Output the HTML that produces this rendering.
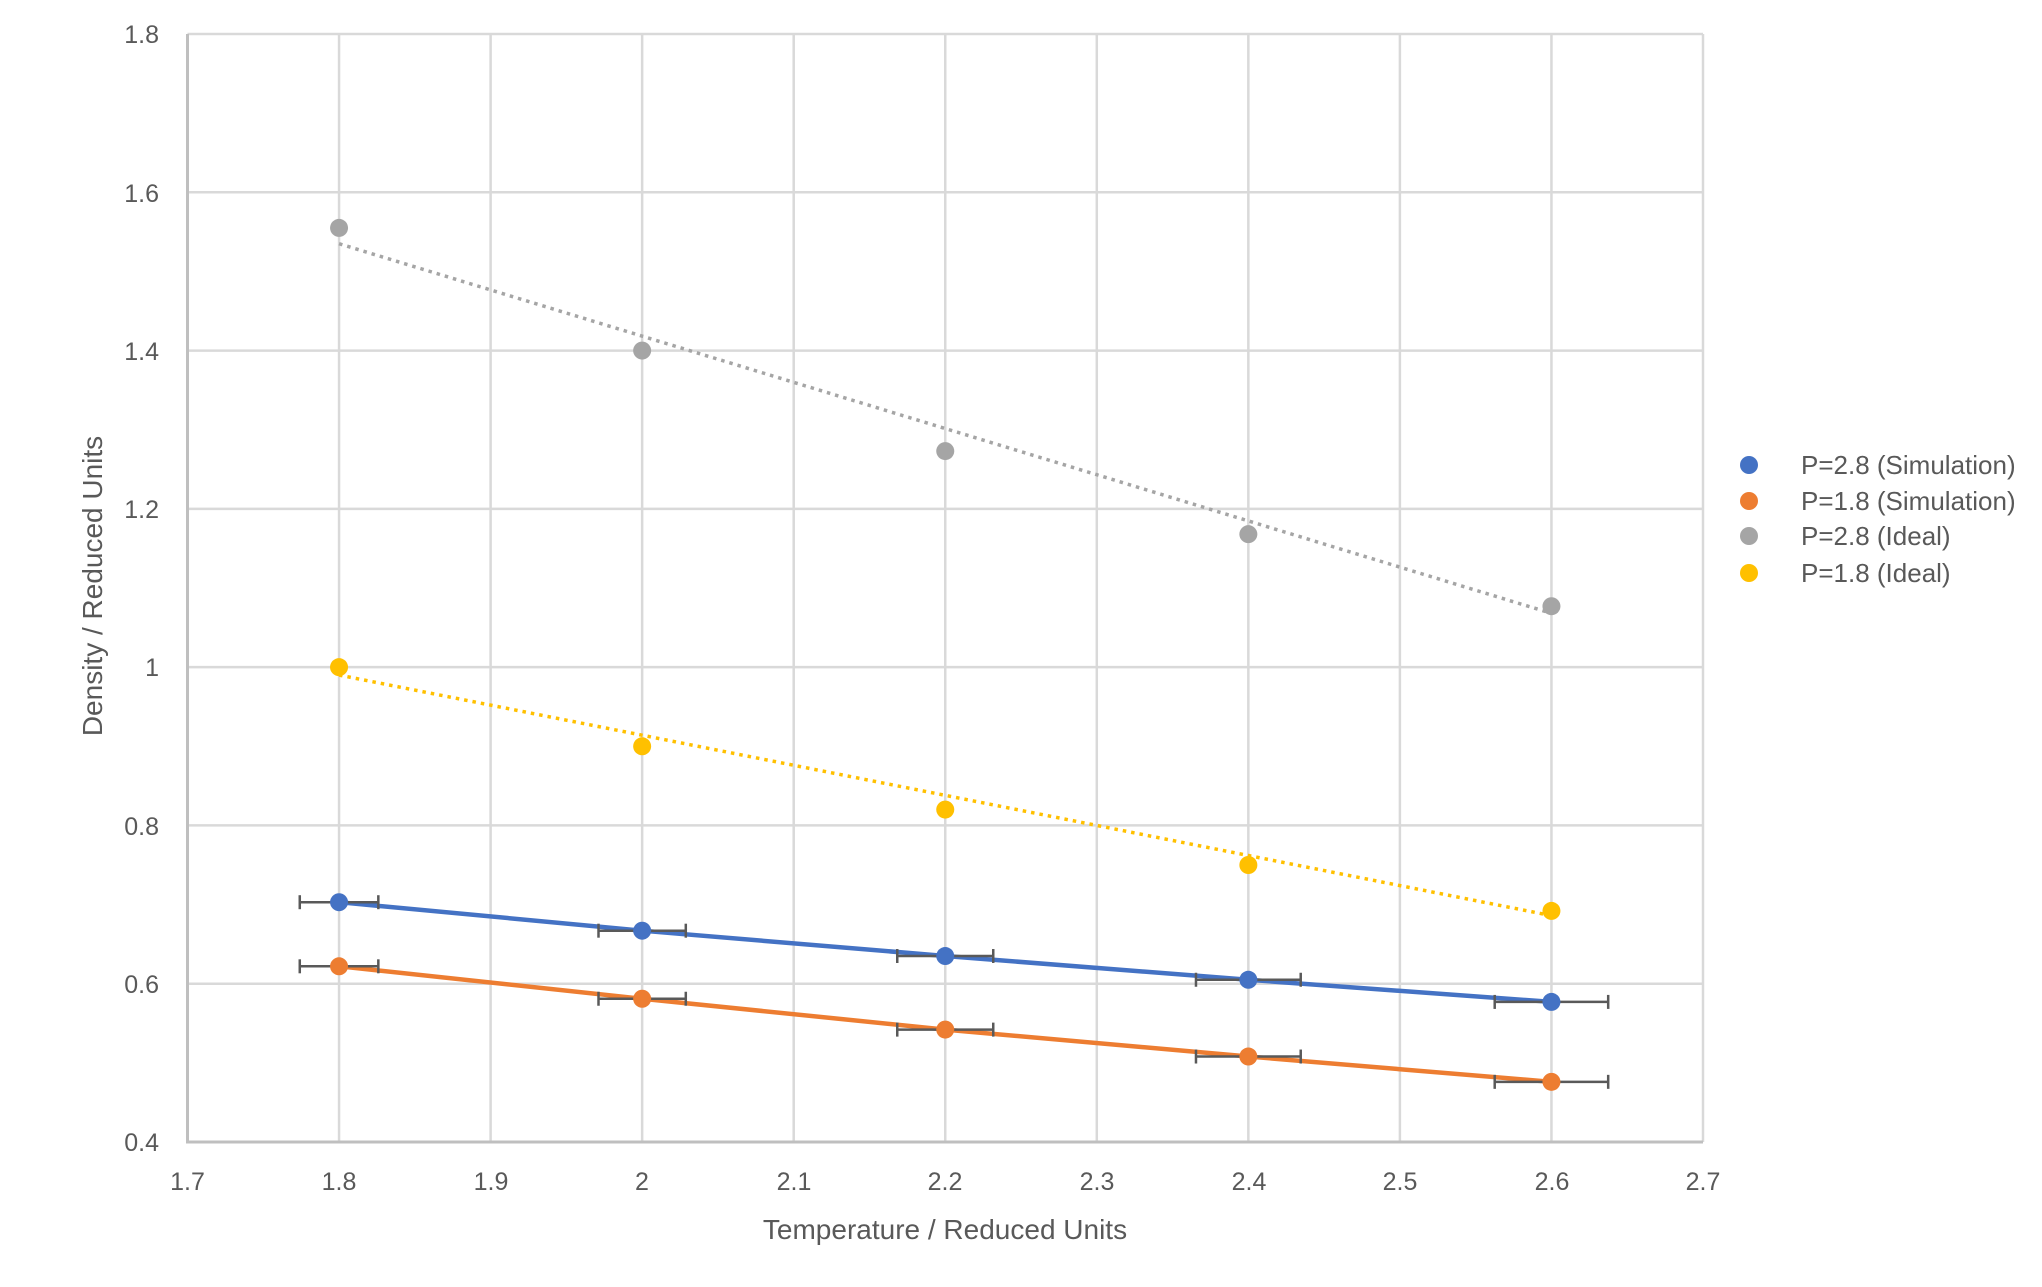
<!DOCTYPE html>
<html><head><meta charset="utf-8"><style>
html,body{margin:0;padding:0;background:#fff;}
svg text{font-family:"Liberation Sans",sans-serif;fill:#595959;}
</style></head><body>
<svg id="s" width="2042" height="1282" xmlns="http://www.w3.org/2000/svg">
<rect width="2042" height="1282" fill="#fff"/>
<g id="grid"></g>
<g font-size="25" text-anchor="end">
<text x="159" y="1151">0.4</text>
<text x="159" y="993">0.6</text>
<text x="159" y="835">0.8</text>
<text x="159" y="676">1</text>
<text x="159" y="518">1.2</text>
<text x="159" y="360">1.4</text>
<text x="159" y="202">1.6</text>
<text x="159" y="43">1.8</text>
</g>
<g font-size="25" text-anchor="middle">
<text x="187.5" y="1190">1.7</text>
<text x="339" y="1190">1.8</text>
<text x="491" y="1190">1.9</text>
<text x="642" y="1190">2</text>
<text x="794" y="1190">2.1</text>
<text x="945" y="1190">2.2</text>
<text x="1097" y="1190">2.3</text>
<text x="1249" y="1190">2.4</text>
<text x="1400" y="1190">2.5</text>
<text x="1552" y="1190">2.6</text>
<text x="1703" y="1190">2.7</text>
</g>
<text x="945" y="1239" font-size="28" text-anchor="middle">Temperature / Reduced Units</text>
<text transform="translate(102,586) rotate(-90)" font-size="28" text-anchor="middle">Density / Reduced Units</text>
<g id="data"></g>
<g font-size="26">
<circle cx="1749" cy="465" r="9" fill="#4472c4"/><text x="1801" y="474">P=2.8 (Simulation)</text>
<circle cx="1749" cy="501" r="9" fill="#ed7d31"/><text x="1801" y="510">P=1.8 (Simulation)</text>
<circle cx="1749" cy="536" r="9" fill="#a5a5a5"/><text x="1801" y="545">P=2.8 (Ideal)</text>
<circle cx="1749" cy="573" r="9" fill="#ffc000"/><text x="1801" y="582">P=1.8 (Ideal)</text>
</g>
</svg>
<script>
var NS="http://www.w3.org/2000/svg";
function X(v){return 187.5+(v-1.7)*1515.5;}
function Y(v){return 1142-(v-0.4)*791.43;}
function el(p,t,a){var e=document.createElementNS(NS,t);for(var k in a)e.setAttribute(k,a[k]);p.appendChild(e);return e;}
var g=document.getElementById("grid");
for(var i=1;i<=10;i++){var x=X(1.7+i*0.1);el(g,"line",{x1:x,y1:34,x2:x,y2:1142,stroke:"#d9d9d9","stroke-width":2.5});}
for(var i=1;i<=7;i++){var y=Y(0.4+i*0.2);el(g,"line",{x1:187.5,y1:y,x2:1703,y2:y,stroke:"#d9d9d9","stroke-width":2.5});}
el(g,"line",{x1:187.5,y1:34,x2:187.5,y2:1143,stroke:"#bfbfbf","stroke-width":3});
el(g,"line",{x1:186,y1:1142,x2:1703,y2:1142,stroke:"#bfbfbf","stroke-width":3});
var T=[1.8,2.0,2.2,2.4,2.6];
var S=[{c:"#a5a5a5",v:[1.555,1.40,1.273,1.168,1.077],fit:[1.535,1.068],dot:1},
{c:"#ffc000",v:[1.0,0.90,0.82,0.75,0.692],fit:[0.99,0.686],dot:1},
{c:"#4472c4",v:[0.703,0.667,0.635,0.605,0.577],err:1},
{c:"#ed7d31",v:[0.622,0.581,0.542,0.508,0.476],err:1}];
var d=document.getElementById("data");
S.forEach(function(s){
 if(s.dot){el(d,"line",{x1:X(1.8),y1:Y(s.fit[0]),x2:X(2.6),y2:Y(s.fit[1]),stroke:s.c,"stroke-width":3.5,"stroke-dasharray":"3.5 5"});}
 else{var pts=T.map(function(t,i){return X(t)+","+Y(s.v[i]);}).join(" ");el(d,"polyline",{points:pts,fill:"none",stroke:s.c,"stroke-width":4.5});}
 if(s.err){T.forEach(function(t,i){var e=0.0144*t,y=Y(s.v[i]);
  el(d,"line",{x1:X(t-e),y1:y,x2:X(t+e),y2:y,stroke:"#595959","stroke-width":2.5});
  el(d,"line",{x1:X(t-e),y1:y-7,x2:X(t-e),y2:y+7,stroke:"#595959","stroke-width":2.5});
  el(d,"line",{x1:X(t+e),y1:y-7,x2:X(t+e),y2:y+7,stroke:"#595959","stroke-width":2.5});});}
 T.forEach(function(t,i){el(d,"circle",{cx:X(t),cy:Y(s.v[i]),r:9,fill:s.c});});
});
</script>
</body></html>
